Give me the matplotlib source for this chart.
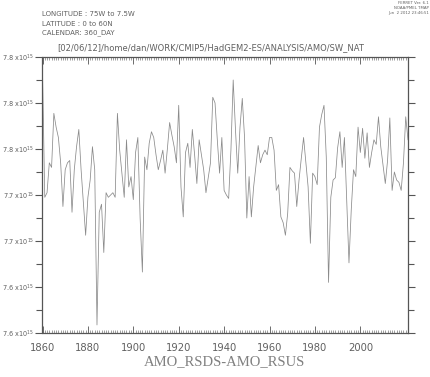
import matplotlib
matplotlib.use("Agg")
import matplotlib.pyplot as plt
import numpy as np
from matplotlib.ticker import FixedLocator, FixedFormatter, MultipleLocator

# ---- data (x10^15), annual values 1860..2021 ----
years = list(range(1860, 2022))
values = [
    7.827, 7.718, 7.722, 7.748, 7.744, 7.791, 7.779, 7.770, 7.748, 7.710,
    7.742, 7.748, 7.750, 7.705, 7.742, 7.762, 7.777, 7.742, 7.713, 7.685,
    7.718, 7.733, 7.762, 7.742, 7.607, 7.705, 7.712, 7.670, 7.722, 7.718,
    7.720, 7.722, 7.718, 7.791, 7.759, 7.738, 7.718, 7.768, 7.727, 7.736,
    7.716, 7.757, 7.770, 7.700, 7.653, 7.753, 7.742, 7.765, 7.775, 7.770,
    7.755, 7.742, 7.750, 7.759, 7.739, 7.760, 7.783, 7.772, 7.762, 7.748,
    7.798, 7.727, 7.701, 7.757, 7.765, 7.744, 7.777, 7.755, 7.730, 7.768,
    7.755, 7.742, 7.722, 7.735, 7.748, 7.805, 7.800, 7.768, 7.739, 7.770,
    7.724, 7.720, 7.717, 7.759, 7.820, 7.777, 7.739, 7.779, 7.804, 7.770,
    7.700, 7.736, 7.701, 7.727, 7.745, 7.763, 7.748, 7.755, 7.759, 7.755,
    7.770, 7.770, 7.759, 7.724, 7.729, 7.701, 7.696, 7.685, 7.704, 7.744,
    7.741, 7.739, 7.710, 7.733, 7.752, 7.770, 7.748, 7.727, 7.678, 7.739,
    7.736, 7.729, 7.779, 7.790, 7.798, 7.753, 7.644, 7.718, 7.733, 7.735,
    7.761, 7.775, 7.744, 7.770, 7.715, 7.661, 7.707, 7.742, 7.736, 7.779,
    7.757, 7.778, 7.752, 7.774, 7.744, 7.757, 7.768, 7.764, 7.788, 7.762,
    7.746, 7.730, 7.750, 7.787, 7.724, 7.740, 7.733, 7.731, 7.724, 7.748,
    7.788, 7.768,
]
ytick_values = [7.60, 7.64, 7.68, 7.72, 7.76, 7.80, 7.84]
ytick_labels = ["7.6", "7.6", "7.7", "7.7", "7.8", "7.8", "7.8"]
xtick_values = [1860, 1880, 1900, 1920, 1940, 1960, 1980, 2000]
header_lines = ["LONGITUDE : 75W to 7.5W", "LATITUDE : 0 to 60N", "CALENDAR: 360_DAY"]
path_title = "[02/06/12]/home/dan/WORK/CMIP5/HadGEM2-ES/ANALYSIS/AMO/SW_NAT"
stamp_lines = ["FERRET Ver. 6.1", "NOAA/PMEL TMAP", "Jun  2 2012 23:46:51"]
xlabel = "AMO_RSDS-AMO_RSUS"

W, H = 431, 377
fig = plt.figure(figsize=(W / 100, H / 100), dpi=100)
fig.patch.set_facecolor("white")

def fx(px):
    return px / W

def fy(py):
    return 1 - py / H

ax = fig.add_axes([fx(42.5), fy(333), fx(408) - fx(42.5), fy(57) - fy(333)])
ax.plot(years, values, color="#8a8a8a", lw=0.55)
ax.set_xlim(1860, 2021)
ax.set_ylim(7.60, 7.84)

axc = "#555555"
txtc = "#606060"
for s in ax.spines.values():
    s.set_color(axc)
    s.set_linewidth(0.9)

ax.yaxis.set_major_locator(FixedLocator(ytick_values))
ax.yaxis.set_major_formatter(FixedFormatter([l + r" x10$^{15}$" for l in ytick_labels]))
ax.yaxis.set_minor_locator(MultipleLocator(0.02))
ax.tick_params(axis="y", which="major", direction="out", length=5, width=0.8,
               color=axc, labelsize=4.7, labelcolor=txtc, pad=1.0,
               left=True, right=True)
ax.tick_params(axis="y", which="minor", direction="out", length=4, width=0.8,
               color=axc, left=True, right=True)

ax.xaxis.set_major_locator(FixedLocator(xtick_values))
ax.xaxis.set_minor_locator(MultipleLocator(1))
ax.tick_params(axis="x", which="major", direction="in", length=5, width=0.6,
               color=axc, labelsize=7.2, labelcolor=txtc, pad=7,
               top=True, bottom=True)
ax.tick_params(axis="x", which="minor", direction="in", length=2.5, width=0.4,
               color=axc, top=True, bottom=True)

# header texts
for i, t in enumerate(header_lines):
    fig.text(fx(42), fy(14 + i * 9.5), t, fontsize=5.0, color=txtc,
             va="center", ha="left")
fig.text(fx(211), fy(48), path_title, fontsize=6.0, color=txtc,
         va="center", ha="center")
for i, t in enumerate(stamp_lines):
    fig.text(fx(429), fy(3 + i * 5), t, fontsize=2.8, color=txtc,
             va="center", ha="right")

fig.text(fx(225), fy(362), xlabel, fontsize=10.5, color="#808080",
         family="Liberation Serif", va="center", ha="center")

fig.savefig("out.png", dpi=100)
